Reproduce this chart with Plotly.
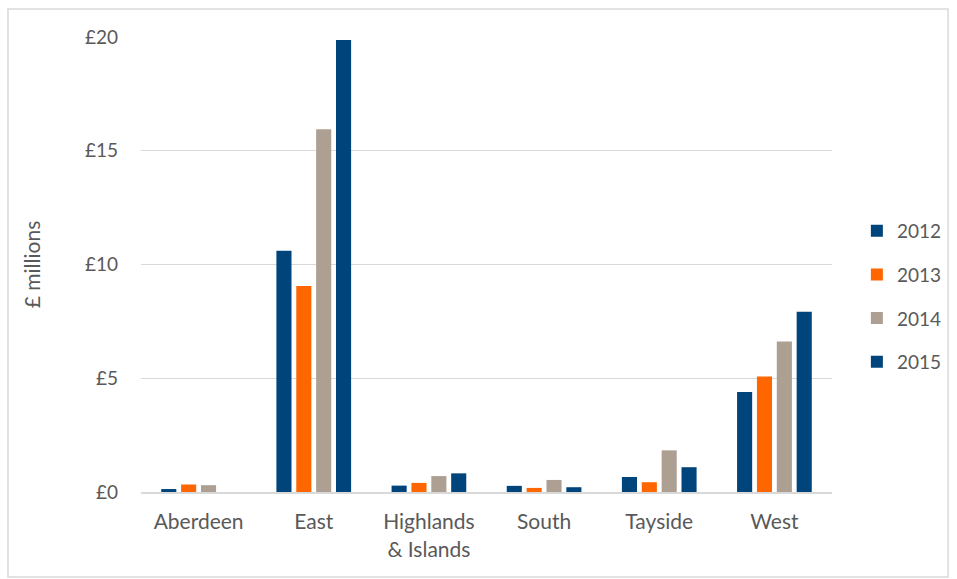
import plotly.graph_objects as go

regions = ["Aberdeen", "East", "Highlands<br>& Islands", "South", "Tayside", "West"]
years = ["2012", "2013", "2014", "2015"]
v2012 = [0.13, 10.6, 0.28, 0.27, 0.66, 4.4]
v2013 = [0.33, 9.05, 0.40, 0.18, 0.43, 5.08]
v2014 = [0.30, 15.95, 0.70, 0.53, 1.83, 6.62]
v2015 = [0.0, 19.87, 0.82, 0.21, 1.09, 7.92]
series = [v2012, v2013, v2014, v2015]
colors = ["#00447C", "#FF6600", "#ADA093", "#00447C"]
ytickvals = [0, 5, 10, 15, 20]
yticktext = ["£0", "£5", "£10", "£15", "£20"]

FONT = "Lato, Open Sans, sans-serif"
fig = go.Figure()
for y, vals, c in zip(years, series, colors):
    fig.add_trace(go.Bar(name=y, x=regions, y=vals, marker_color=c,
                         marker_line_width=0, legendgroup=y))

fig.update_layout(
    width=957, height=579,
    margin=dict(l=141, r=125, t=37, b=87, autoexpand=False),
    paper_bgcolor="white", plot_bgcolor="white",
    barmode="group", bargap=0.31, bargroupgap=0.24,
    font=dict(family=FONT, size=19, color="#595959"),
    legend=dict(x=1.036, y=0.43, xanchor="left", yanchor="middle",
                font=dict(size=19, color="#595959"), tracegroupgap=16,
                itemwidth=30),
    xaxis=dict(showgrid=False, showline=True, linecolor="#D9D9D9", linewidth=2,
               ticks="", tickfont=dict(size=21), ticklabelstandoff=10),
    yaxis=dict(range=[0, 20], tickvals=ytickvals, ticktext=yticktext,
               showgrid=True, gridcolor="#D9D9D9", gridwidth=1.3,
               zeroline=False, showline=False, ticks="",
               tickfont=dict(size=19), ticklabelstandoff=22,
               title=dict(text="£ millions", font=dict(size=21), standoff=38)),
    shapes=[dict(type="rect", xref="paper", yref="paper",
                 x0=-0.1925, x1=1.168, y0=-0.187, y1=1.0615,
                 line=dict(color="#D9D9D9", width=1.5), layer="below")],
)
fig.write_html("out.html")
